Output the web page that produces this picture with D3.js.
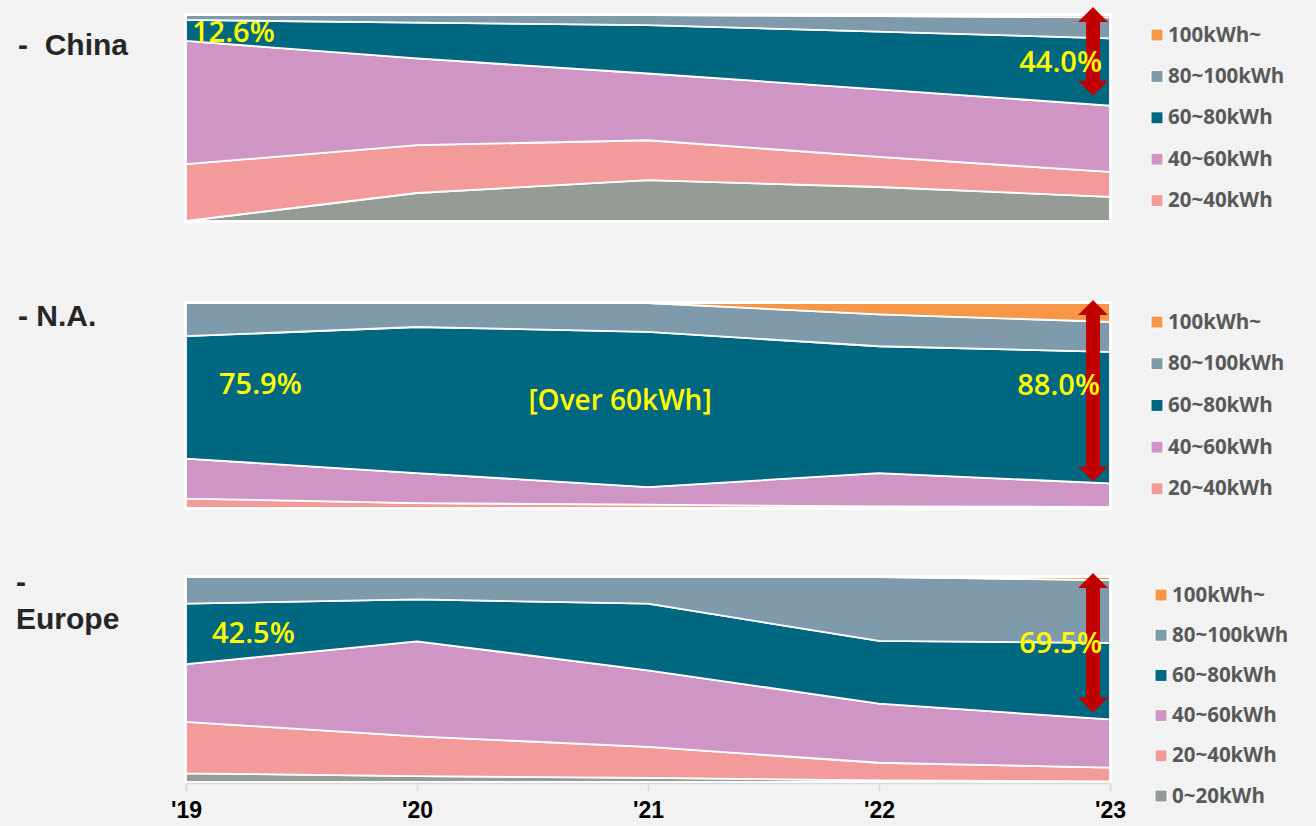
<!DOCTYPE html>
<html>
<head>
<meta charset="utf-8">
<script src="https://cdn.jsdelivr.net/npm/d3@7"></script>
<style>
  html, body { margin: 0; padding: 0; background: #f2f2f2; }
  svg { display: block; }
</style>
</head>
<body>
<svg id="chart" width="1316" height="826"></svg>
<script>
// Battery capacity mix (share of units, %) by region, 2019-2023
const years = ["'19", "'20", "'21", "'22", "'23"];
const bands = ["0~20kWh", "20~40kWh", "40~60kWh", "60~80kWh", "80~100kWh", "100kWh~"];

// one row per band (bottom to top), one value per year
const chinaShare = [
  [0.0, 13.6, 19.8, 16.5, 11.7],
  [27.6, 23.2, 19.4, 14.6, 12.1],
  [59.8, 42.1, 32.4, 32.8, 32.2],
  [10.2, 17.4, 23.5, 28.0, 32.7],
  [2.4, 3.7, 4.9, 7.6, 10.1],
  [0.0, 0.0, 0.0, 0.5, 1.2]
];
const naShare = [
  [0.0, 0.0, 0.0, 0.0, 0.0],
  [4.6, 2.4, 1.6, 0.8, 0.5],
  [19.5, 14.6, 8.6, 16.2, 11.5],
  [59.7, 71.3, 75.7, 61.9, 64.2],
  [16.2, 11.7, 14.1, 15.6, 14.6],
  [0.0, 0.0, 0.0, 5.5, 9.2]
];
const europeShare = [
  [4.2, 2.9, 2.0, 0.8, 0.3],
  [25.1, 19.4, 15.1, 8.6, 6.7],
  [28.2, 46.3, 37.4, 28.8, 23.5],
  [29.5, 20.5, 32.5, 30.6, 37.4],
  [13.0, 10.9, 13.0, 31.2, 30.6],
  [0.0, 0.0, 0.0, 0.0, 1.5]
];

const regionNames = ["-  China", "- N.A.", "-\nEurope"];
const legendBands = [
  ["100kWh~", "80~100kWh", "60~80kWh", "40~60kWh", "20~40kWh"],
  ["100kWh~", "80~100kWh", "60~80kWh", "40~60kWh", "20~40kWh"],
  ["100kWh~", "80~100kWh", "60~80kWh", "40~60kWh", "20~40kWh", "0~20kWh"]
];
const centerNote = "[Over 60kWh]";

const colors = {
  "0~20kWh": "#949c95",
  "20~40kWh": "#f39a9a",
  "40~60kWh": "#cf96c5",
  "60~80kWh": "#006781",
  "80~100kWh": "#7f9aaa",
  "100kWh~": "#f79646"
};

// ---- layout ----
const x0 = 186, x1 = 1110;
const panels = [
  { data: chinaShare, top: 15, bottom: 221,
    title: { x: 18, y: 55 },
    legend: { x: 1151, y: 35, step: 41.4 },
    arrow: { top: -8, bottom: -10 },
    first: { dx: 6, y: 42 }, last: { dx: -8, y: 72 } },
  { data: naShare, top: 303, bottom: 508,
    title: { x: 18, y: 326 },
    legend: { x: 1151, y: 322, step: 41.7 },
    arrow: { top: -3, bottom: -2 },
    first: { dx: 33, y: 394 }, last: { dx: -10, y: 395 }, note: { y: 410 } },
  { data: europeShare, top: 577, bottom: 782,
    title: { x: 16, y: 592 },
    legend: { x: 1155, y: 595, step: 40.2 },
    arrow: { top: -4, bottom: -7 },
    first: { dx: 26, y: 643 }, last: { dx: -8, y: 653 } }
];

const svg = d3.select("#chart");
svg.append("rect").attr("width", 1316).attr("height", 826).attr("fill", "#f2f2f2");

const x = d3.scalePoint().domain(years).range([x0, x1]).padding(0);

const over60 = (data, i) => data[3][i] + data[4][i] + data[5][i];
const pct = v => v.toFixed(1) + "%";

panels.forEach((p, pi) => {
  const y = d3.scaleLinear().domain([0, 100]).range([p.bottom, p.top]);

  const rows = years.map((yr, i) => {
    const r = { year: yr };
    bands.forEach((b, bi) => { r[b] = p.data[bi][i]; });
    return r;
  });
  const series = d3.stack().keys(bands)(rows);

  const area = d3.area()
    .x(d => x(d.data.year))
    .y0(d => y(d[0]))
    .y1(d => y(d[1]));

  const g = svg.append("g");

  g.selectAll("path.band")
    .data(series)
    .join("path")
    .attr("class", "band")
    .attr("d", area)
    .attr("fill", d => colors[d.key])
    .attr("stroke", "#ffffff")
    .attr("stroke-width", 1.8)
    .attr("stroke-linejoin", "round");

  // plot frame
  g.append("rect")
    .attr("x", x0 - 1).attr("y", p.top - 1)
    .attr("width", x1 - x0 + 2).attr("height", p.bottom - p.top + 2)
    .attr("fill", "none").attr("stroke", "#ffffff").attr("stroke-width", 2);

  // double arrow spanning the over-60kWh share in the last year
  const last = years.length - 1;
  const ax = x(years[last]) - 17;
  const ayTop = y(100) + p.arrow.top;
  const ayBot = y(100 - over60(p.data, last)) + p.arrow.bottom;
  const sw = 7, hw = 15, hl = 15;
  const arrow = d3.path();
  arrow.moveTo(ax, ayTop);
  arrow.lineTo(ax + hw, ayTop + hl);
  arrow.lineTo(ax + sw, ayTop + hl);
  arrow.lineTo(ax + sw, ayBot - hl);
  arrow.lineTo(ax + hw, ayBot - hl);
  arrow.lineTo(ax, ayBot);
  arrow.lineTo(ax - hw, ayBot - hl);
  arrow.lineTo(ax - sw, ayBot - hl);
  arrow.lineTo(ax - sw, ayTop + hl);
  arrow.lineTo(ax - hw, ayTop + hl);
  arrow.closePath();
  g.append("path").attr("d", arrow.toString()).attr("fill", "#c00000");

  // over-60kWh share labels
  const labelFont = "'Open Sans', 'Noto Sans', sans-serif";
  g.append("text")
    .attr("x", x(years[0]) + p.first.dx).attr("y", p.first.y)
    .attr("font-family", labelFont).attr("font-weight", 600)
    .attr("font-size", 29).attr("fill", "#ffff00")
    .text(pct(over60(p.data, 0)));
  g.append("text")
    .attr("x", x(years[last]) + p.last.dx).attr("y", p.last.y)
    .attr("text-anchor", "end")
    .attr("font-family", labelFont).attr("font-weight", 600)
    .attr("font-size", 29).attr("fill", "#ffff00")
    .text(pct(over60(p.data, last)));
  if (p.note) {
    g.append("text")
      .attr("x", 620).attr("y", p.note.y)
      .attr("text-anchor", "middle")
      .attr("font-family", labelFont).attr("font-weight", 600)
      .attr("font-size", 28).attr("fill", "#ffff00")
      .text(centerNote);
  }

  // region title
  const lines = regionNames[pi].split("\n");
  const t = svg.append("text")
    .attr("x", p.title.x).attr("y", p.title.y)
    .attr("font-family", "'Liberation Sans', Arial, sans-serif")
    .attr("font-weight", 700).attr("font-size", 30).attr("fill", "#262626")
    .attr("xml:space", "preserve").style("white-space", "pre");
  lines.forEach((ln, li) => {
    t.append("tspan").attr("x", p.title.x).attr("dy", li === 0 ? 0 : 37).text(ln);
  });

  // legend
  const lg = svg.append("g");
  legendBands[pi].forEach((b, i) => {
    const cy = p.legend.y + i * p.legend.step;
    lg.append("rect")
      .attr("x", p.legend.x).attr("y", cy - 6)
      .attr("width", 12).attr("height", 12)
      .attr("fill", colors[b]).attr("stroke", "#ffffff").attr("stroke-width", 1);
    lg.append("text")
      .attr("x", p.legend.x + 17).attr("y", cy + 6.5)
      .attr("font-family", "'Open Sans', sans-serif")
      .attr("font-weight", 700).attr("font-size", 20.5).attr("fill", "#595959")
      .text(b);
  });

  // year axis under the last panel
  if (pi === panels.length - 1) {
    const axis = d3.axisBottom(x).tickSize(8).tickPadding(11);
    const ag = svg.append("g")
      .attr("transform", `translate(0,${p.bottom + 1})`)
      .call(axis);
    ag.select(".domain").attr("stroke", "#d9d9d9").attr("stroke-width", 1.5);
    ag.selectAll(".tick line").attr("stroke", "#d9d9d9").attr("stroke-width", 1.5);
    ag.selectAll(".tick text")
      .attr("font-family", "'Liberation Sans', Arial, sans-serif")
      .attr("font-weight", 700).attr("font-size", 23).attr("fill", "#000000")
      .attr("dy", "0.71em");
  }
});
</script>
</body>
</html>
